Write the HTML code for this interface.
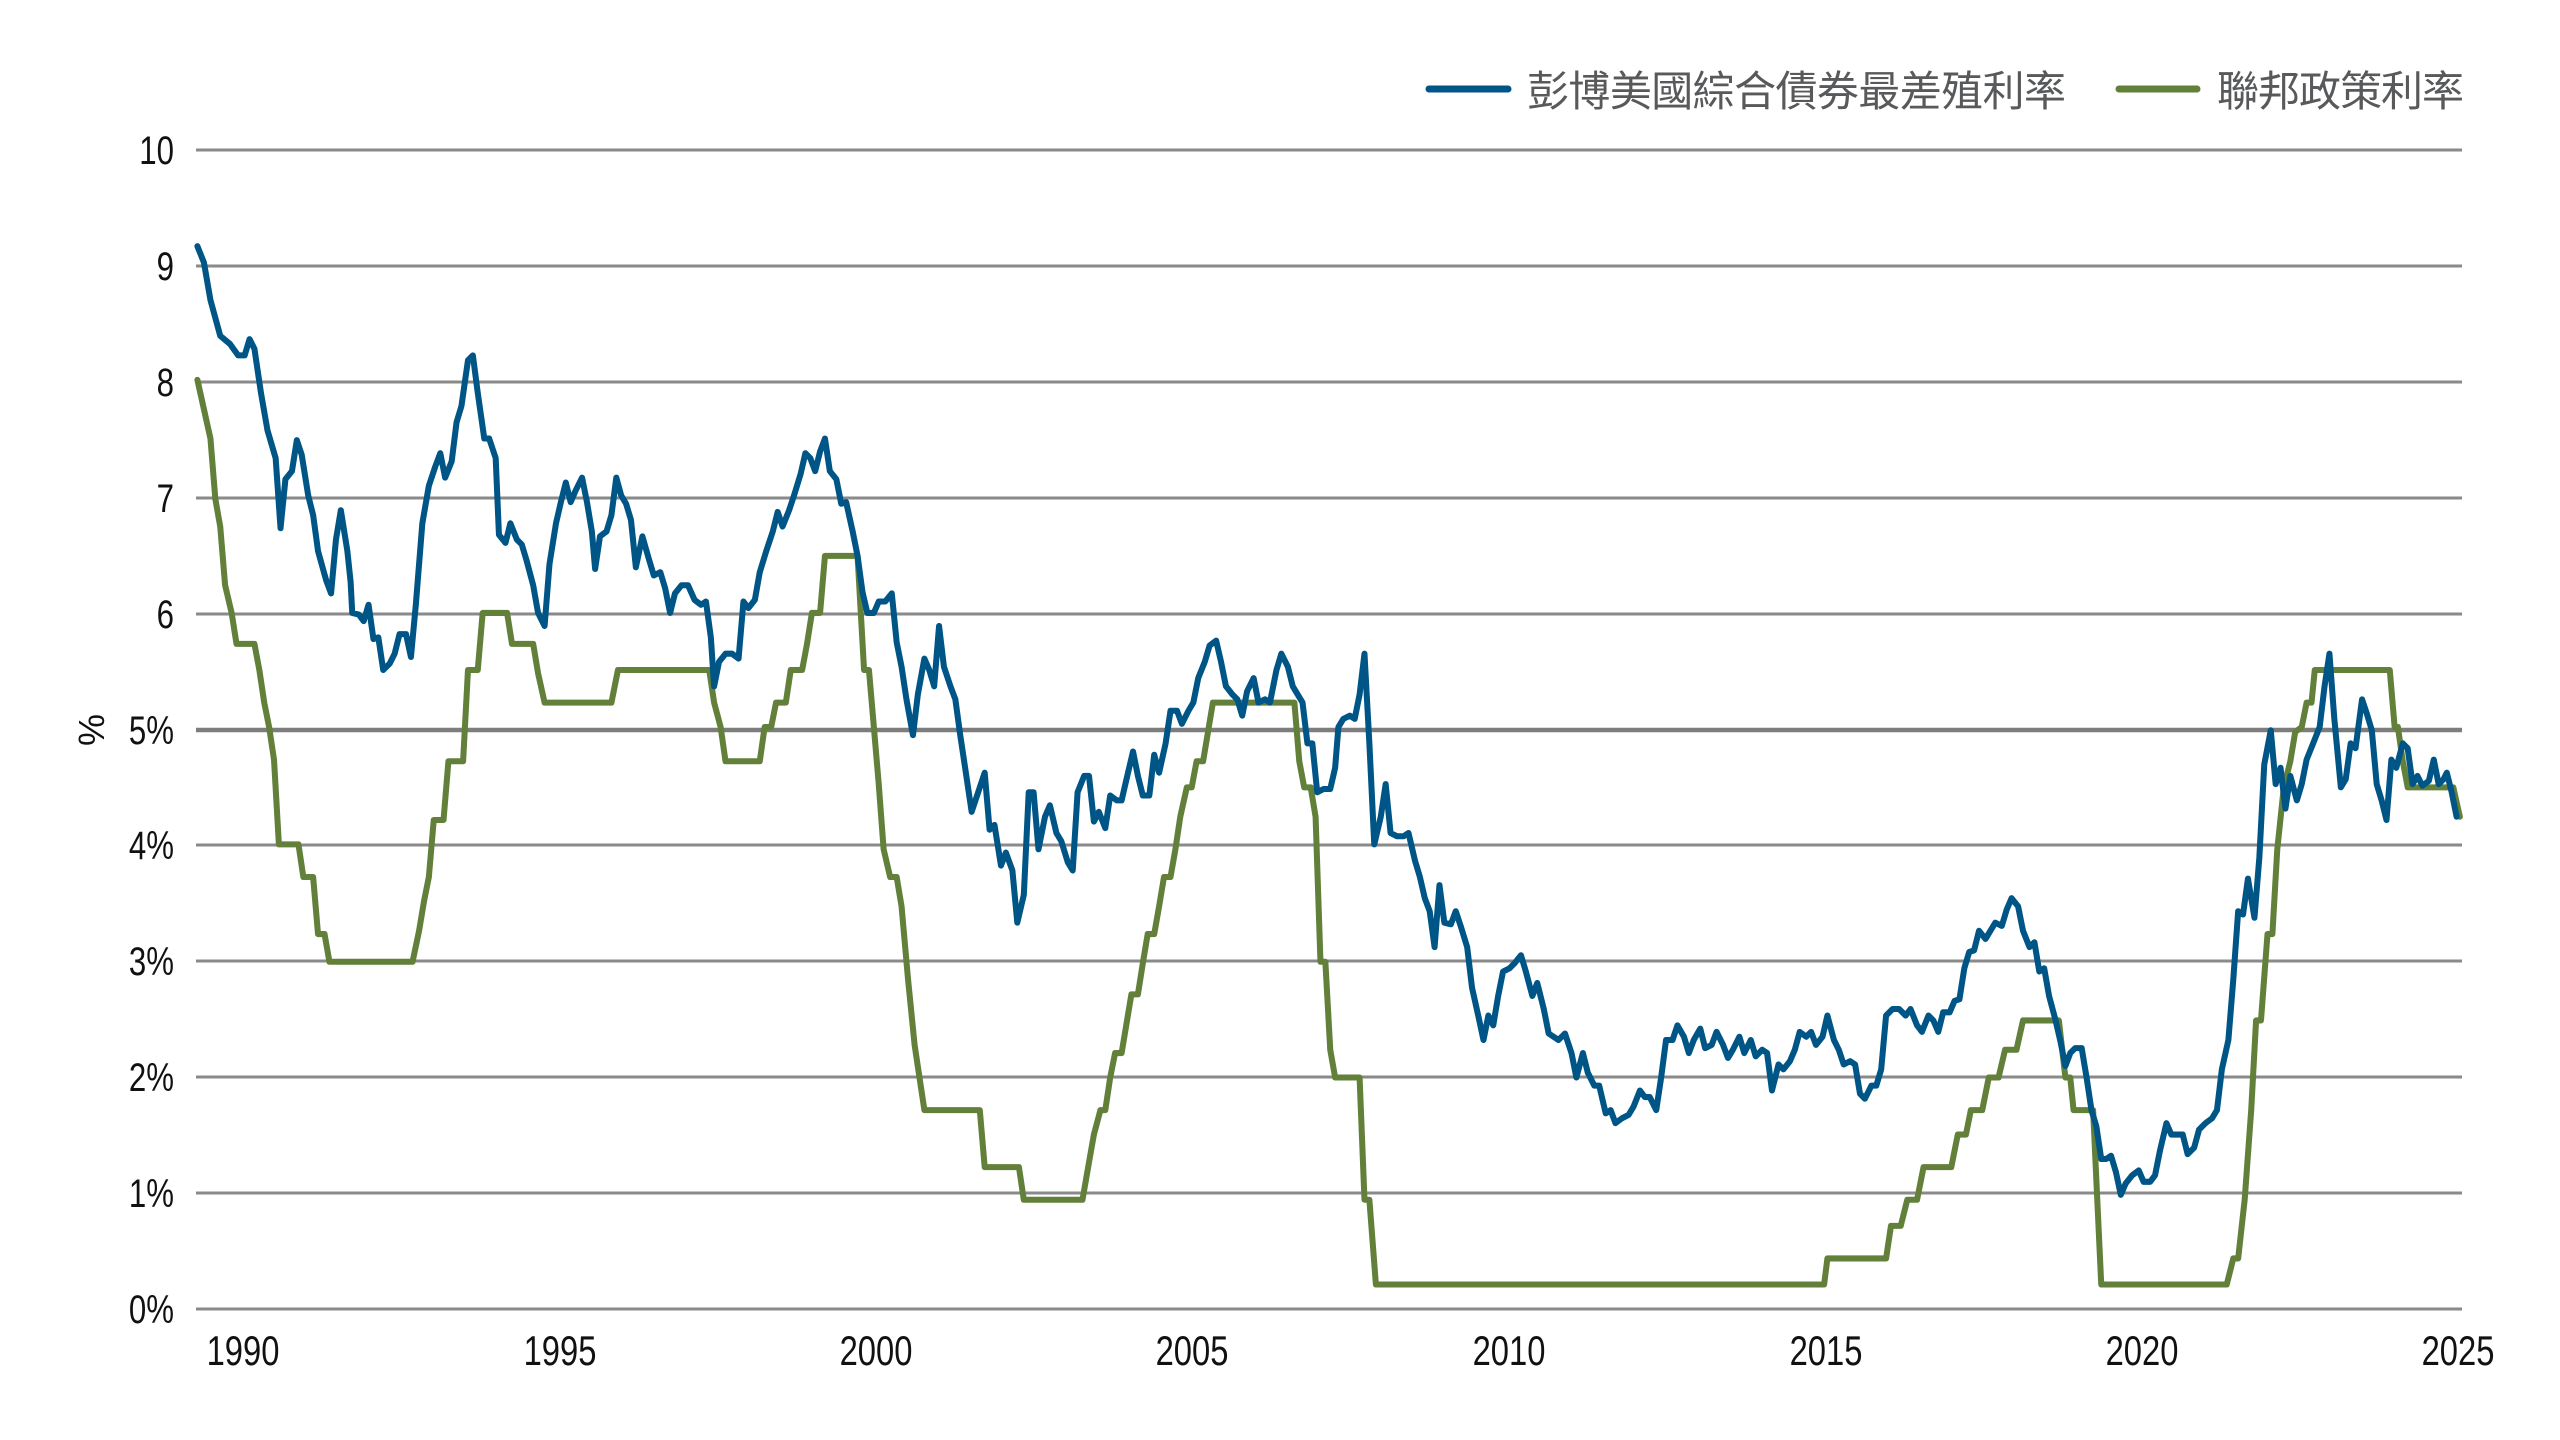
<!DOCTYPE html>
<html><head><meta charset="utf-8"><style>
html,body{margin:0;padding:0;background:#fff;}
svg{display:block;}
.t{font-family:"Liberation Sans",sans-serif;font-size:40px;fill:#111;}
.lg{font-family:"Liberation Sans","Noto Sans CJK TC",sans-serif;font-size:42px;fill:#58595b;}
</style></head><body>
<svg width="2560" height="1440" viewBox="0 0 2560 1440" xmlns="http://www.w3.org/2000/svg">
<g stroke="#8a8a8a" stroke-width="3">
<line x1="196" x2="2462" y1="150" y2="150"/>
<line x1="196" x2="2462" y1="266" y2="266"/>
<line x1="196" x2="2462" y1="382" y2="382"/>
<line x1="196" x2="2462" y1="498" y2="498"/>
<line x1="196" x2="2462" y1="614" y2="614"/>
<line x1="196" x2="2462" y1="730" y2="730" stroke-width="4.5" stroke="#7d7d7d"/>
<line x1="196" x2="2462" y1="845" y2="845"/>
<line x1="196" x2="2462" y1="961" y2="961"/>
<line x1="196" x2="2462" y1="1077" y2="1077"/>
<line x1="196" x2="2462" y1="1193" y2="1193"/>
<line x1="196" x2="2462" y1="1309" y2="1309"/>
</g>
<g class="t" text-anchor="end">
<text transform="translate(174,164) scale(0.78,1)">10</text>
<text transform="translate(174,280) scale(0.78,1)">9</text>
<text transform="translate(174,396) scale(0.78,1)">8</text>
<text transform="translate(174,512) scale(0.78,1)">7</text>
<text transform="translate(174,628) scale(0.78,1)">6</text>
<text transform="translate(174,744) scale(0.78,1)">5%</text>
<text transform="translate(174,859) scale(0.78,1)">4%</text>
<text transform="translate(174,975) scale(0.78,1)">3%</text>
<text transform="translate(174,1091) scale(0.78,1)">2%</text>
<text transform="translate(174,1207) scale(0.78,1)">1%</text>
<text transform="translate(174,1323) scale(0.78,1)">0%</text>
</g>
<text class="t" text-anchor="middle" transform="translate(104,730) rotate(-90)" style="font-size:36px">%</text>
<g class="t" text-anchor="middle" style="font-size:42px">
<text transform="translate(243,1365) scale(0.78,1)">1990</text>
<text transform="translate(560,1365) scale(0.78,1)">1995</text>
<text transform="translate(876,1365) scale(0.78,1)">2000</text>
<text transform="translate(1192,1365) scale(0.78,1)">2005</text>
<text transform="translate(1509,1365) scale(0.78,1)">2010</text>
<text transform="translate(1826,1365) scale(0.78,1)">2015</text>
<text transform="translate(2142,1365) scale(0.78,1)">2020</text>
<text transform="translate(2458,1365) scale(0.78,1)">2025</text>
</g>
<line x1="1429" x2="1508" y1="89" y2="89" stroke="#005587" stroke-width="7" stroke-linecap="round"/>
<text class="lg" x="1527" y="106" textLength="539" lengthAdjust="spacing">彭博美國綜合債券最差殖利率</text>
<line x1="2119" x2="2197" y1="89" y2="89" stroke="#62803a" stroke-width="7" stroke-linecap="round"/>
<text class="lg" x="2217" y="106" textLength="247" lengthAdjust="spacing">聯邦政策利率</text>
<g transform="matrix(1.63,0,0,1.63,1.8,1.7)" fill="none" stroke-linejoin="round" stroke-linecap="round">
<polyline stroke="#62803a" stroke-width="3.7" points="120,232 124,250 128,268 131,305 134,322 137,358 141,375 144,394 155,394 158,410 161,430 164,445 167,465 170,517 182,517 185,537 191,537 194,572 198,572 201,589 252,589 256,570 259,552 262,537 265,502 271,502 274,466 283,466 286,410 292,410 295,375 310,375 313,394 326,394 329,412 333,430 374,430 378,410 434,410 437,430 441,445 444,466 465,466 468,445 472,445 475,430 481,430 484,410 491,410 494,394 497,375 502,375 505,340 525,340 529,410 532,410 535,445 538,480 541,520 545,537 549,537 552,555 556,600 560,640 563,660 566,680 600,680 603,715 624,715 627,735 663,735 667,712 670,695 674,680 677,680 680,660 683,645 687,645 690,627 693,609 697,609 700,590 703,572 707,572 710,555 713,537 717,537 720,520 723,500 727,482 730,482 733,466 737,466 740,448 743,430 793,430 796,466 799,482 803,482 806,500 809,589 812,589 815,643 818,660 833,660 836,735 839,735 843,787 1118,787 1120,771 1156,771 1159,751 1165,751 1169,735 1175,735 1179,715 1196,715 1200,695 1205,695 1208,680 1215,680 1219,660 1225,660 1229,643 1236,643 1240,625 1262,625 1266,660 1269,660 1271,680 1283,680 1288,787 1365,787 1369,771 1372,771 1376,735 1380,680 1383,625 1386,625 1390,572 1393,572 1396,520 1400,482 1404,466 1407,448 1411,445 1414,430 1417,430 1419,410 1465,410 1468,445 1470,445 1473,466 1476,482 1504,482 1508,500"/>
<polyline stroke="#005587" stroke-width="3.7" points="120,150 124,160 128,183 134,205 140,210 145,217 149,217 152,207 155,213 159,240 163,263 168,280 171,323 174,293 178,288 181,269 184,278 188,303 191,315 194,337 199,355 202,363 205,330 208,312 212,337 214,356 215,375 219,376 222,380 225,370 228,391 231,390 234,410 238,406 241,400 244,388 248,388 251,402 254,370 258,320 262,297 266,285 269,277 272,292 276,282 279,258 282,248 286,220 289,217 292,240 296,268 299,268 303,280 305,327 309,332 312,320 316,330 319,333 322,343 326,358 329,375 333,383 336,345 340,320 343,307 346,295 349,307 352,300 356,292 359,307 362,325 364,348 367,328 371,325 374,315 377,292 380,303 383,308 386,318 389,347 393,328 397,342 400,352 404,350 407,360 410,375 413,363 417,358 421,358 425,367 429,370 432,368 435,390 437,420 440,405 444,400 448,400 452,403 455,368 458,372 462,367 465,350 469,337 473,325 476,313 479,322 483,312 486,303 490,290 493,277 496,280 499,288 502,276 505,268 508,288 512,293 515,308 518,307 522,325 525,340 528,362 531,375 535,375 538,368 542,368 546,363 549,393 552,408 555,428 559,450 562,425 566,403 569,410 572,420 575,383 578,408 582,420 585,428 588,450 591,470 595,497 599,485 603,473 606,508 609,505 613,530 616,522 620,533 623,565 627,548 630,485 633,485 636,520 640,500 643,493 647,510 650,515 654,528 657,533 660,485 664,475 667,475 670,503 673,497 677,507 680,487 684,490 687,490 690,477 694,460 697,475 700,487 704,487 707,462 710,473 714,455 717,435 721,435 724,443 728,435 731,430 734,415 738,405 741,395 745,392 748,405 751,420 755,425 758,428 761,438 764,423 768,415 771,430 775,428 778,430 782,410 785,400 789,408 792,420 795,425 798,430 801,455 804,455 807,485 811,483 815,483 818,470 820,445 823,440 827,438 830,440 833,425 836,400 839,455 842,517 846,500 849,480 852,510 856,512 860,512 863,510 867,527 870,537 873,550 876,558 879,580 882,542 885,565 889,566 892,558 895,567 899,580 902,605 906,623 909,637 912,622 915,628 918,610 921,595 925,593 928,590 932,585 935,595 939,610 942,602 946,618 949,633 952,635 955,637 959,633 963,645 966,660 970,645 973,657 977,665 980,665 984,682 987,680 990,688 994,685 998,683 1001,678 1005,668 1008,672 1011,672 1015,680 1018,660 1021,637 1025,637 1028,628 1032,635 1035,645 1038,637 1042,630 1045,642 1049,640 1052,632 1056,640 1059,648 1062,643 1066,635 1069,645 1073,637 1076,647 1080,643 1083,645 1086,668 1090,652 1093,655 1097,650 1100,643 1103,632 1107,635 1110,632 1113,640 1117,635 1120,622 1124,637 1127,643 1130,652 1134,650 1137,652 1140,670 1143,673 1147,665 1150,665 1153,655 1156,622 1160,618 1164,618 1168,622 1171,618 1175,628 1178,632 1182,622 1185,625 1188,632 1191,620 1195,620 1198,613 1201,612 1204,593 1207,583 1210,582 1213,570 1217,575 1220,570 1223,565 1227,567 1230,557 1233,550 1237,555 1240,570 1244,580 1247,577 1250,595 1253,593 1256,610 1260,625 1263,638 1266,653 1269,645 1272,642 1276,642 1279,660 1282,680 1285,690 1288,710 1291,710 1294,708 1297,718 1300,732 1303,725 1307,720 1311,717 1314,724 1318,724 1321,720 1324,705 1328,688 1331,695 1335,695 1338,695 1341,707 1345,703 1348,692 1352,688 1356,685 1359,680 1362,655 1366,637 1369,600 1372,558 1375,560 1378,538 1382,562 1385,525 1388,468 1392,447 1395,480 1398,470 1401,495 1404,475 1408,490 1411,480 1414,465 1418,455 1422,445 1425,420 1428,400 1431,440 1435,482 1438,477 1441,455 1444,458 1448,428 1451,437 1454,447 1457,480 1460,490 1463,502 1466,465 1469,470 1473,455 1476,458 1479,480 1482,475 1485,481 1489,478 1492,465 1495,480 1498,477 1500,473 1503,485 1506,500"/>
</g>
</svg>
</body></html>
